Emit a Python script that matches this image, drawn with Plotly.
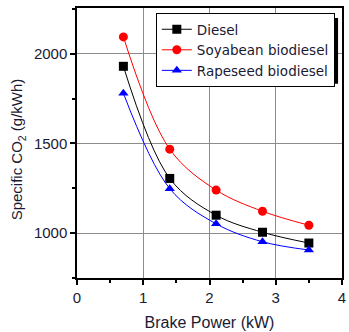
import plotly.graph_objects as go

power = [0.7, 1.4, 2.1, 2.8, 3.5]
diesel = [1930, 1305, 1100, 1005, 945]
soyabean = [2094, 1468, 1240, 1122, 1044]
rapeseed = [1780, 1248, 1052, 952, 906]

names = ["Diesel", "Soyabean biodiesel", "Rapeseed biodiesel"]
series = [diesel, soyabean, rapeseed]
colors = ["black", "red", "blue"]
symbols = ["square", "circle", "triangle-up"]

fig = go.Figure()
for n, s, c, m in zip(names, series, colors, symbols):
    fig.add_trace(go.Scatter(
        x=power, y=s, name=n, mode="lines+markers",
        line=dict(color=c, width=1, shape="spline", smoothing=1.0),
        marker=dict(color=c, symbol=m, size=9),
    ))

W, H = 349, 332
L, R, T, B = 77, 3, 8, 53
pw, ph = W - L - R, H - T - B

def px(x):
    return (x - L) / pw

def py(y):
    return 1 - (y - T) / ph

TXT = "#1a1a33"
FONT = "Liberation Sans, Arial"

# legend drop shadow
fig.add_shape(type="rect", xref="paper", yref="paper",
              x0=px(162), x1=px(342), y0=py(84), y1=py(18),
              fillcolor="black", line=dict(width=0), layer="above")

# y-axis title
fig.add_annotation(xref="paper", yref="paper", x=px(17), y=py(150),
                   xanchor="center", yanchor="middle", showarrow=False, textangle=-90,
                   text="Specific CO<sub>2</sub> (g/kWh)",
                   font=dict(family=FONT, size=15, color=TXT))

axis_common = dict(
    showline=True, linecolor="black", linewidth=1.5, mirror=True,
    ticks="outside", ticklen=5, tickcolor="black", tickwidth=1.5,
    showgrid=True, gridcolor="#8c8c8c", gridwidth=1, zeroline=False,
    tickfont=dict(family=FONT, size=15, color=TXT),
)

fig.update_layout(
    width=W, height=H,
    margin=dict(l=L, r=R, t=T, b=B),
    paper_bgcolor="white", plot_bgcolor="white",
    font=dict(family=FONT, size=15, color=TXT),
    showlegend=True,
    legend=dict(x=px(157), y=py(13), xanchor="left", yanchor="top",
                bgcolor="white", bordercolor="black", borderwidth=1,
                font=dict(family="DejaVu Sans", size=13.5, color=TXT),
                tracegroupgap=0, itemwidth=30),
    xaxis=dict(range=[0, 4], dtick=1,
               minor=dict(dtick=0.5, ticks="outside", ticklen=3, tickcolor="black"),
               title=dict(text="Brake Power (kW)", font=dict(size=16), standoff=12),
               **axis_common),
    yaxis=dict(range=[750, 2255], tick0=1000, dtick=500,
               minor=dict(dtick=250, ticks="outside", ticklen=3, tickcolor="black"),
               **axis_common),
)

fig.write_html("out.html")
